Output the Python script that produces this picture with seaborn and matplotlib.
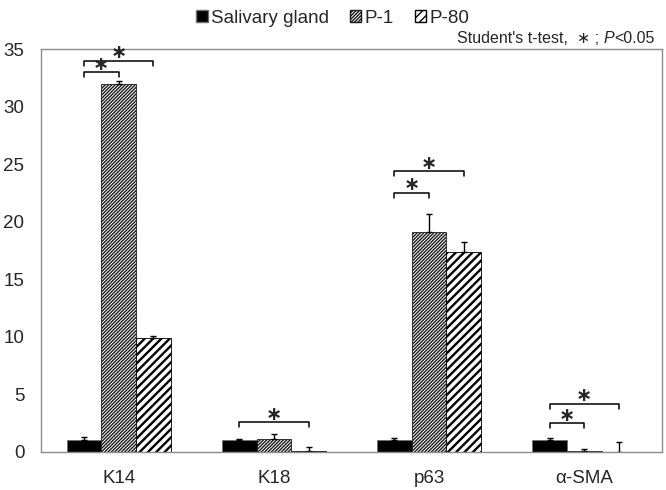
import numpy as np
import pandas as pd
import matplotlib
matplotlib.use("Agg")
import matplotlib.pyplot as plt
from matplotlib.patches import Patch
import seaborn as sns

# values
MARKERS = ["K14", "K18", "p63", "α-SMA"]
SAMPLES = ["Salivary gland", "P-1", "P-80"]
SG_MEAN = [1.0, 1.0, 1.0, 1.0]
SG_ERR = [0.3, 0.15, 0.2, 0.2]
P1_MEAN = [32.0, 1.1, 19.1, 0.05]
P1_ERR = [0.2, 0.45, 1.6, 0.2]
P80_MEAN = [9.9, 0.1, 17.4, 0.0]
P80_ERR = [0.15, 0.35, 0.85, 0.85]

# significance brackets: (marker index, from sample, to sample, height)
BRACKETS = [
    (0, 0, 1, 33.0), (0, 0, 2, 34.0),
    (1, 0, 2, 2.6),
    (2, 0, 1, 22.5), (2, 0, 2, 24.4),
    (3, 0, 1, 2.5), (3, 0, 2, 4.2),
]

sns.set_style("white")
plt.rcParams["font.family"] = ["Liberation Sans", "DejaVu Sans"]
plt.rcParams["hatch.linewidth"] = 1.0

df = pd.DataFrame({
    "marker": MARKERS * 3,
    "sample": np.repeat(SAMPLES, len(MARKERS)),
    "value": SG_MEAN + P1_MEAN + P80_MEAN,
})
errs = [SG_ERR, P1_ERR, P80_ERR]

fig = plt.figure(figsize=(6.66, 4.9), dpi=100)
ax = fig.add_axes([0.0616, 0.0776, 0.9324, 0.8224])

sns.barplot(data=df, x="marker", y="value", hue="sample", order=MARKERS,
            hue_order=SAMPLES, palette=["black", "white", "white"],
            width=0.67, errorbar=None, legend=False, ax=ax)

hatches = [None, "//////////", "////"]
hatch_colors = ["#707070", "#1a1a1a", "black"]
hatch_lw = [1.0, 1.0, 1.7]
centers = []
bar_containers = list(ax.containers)
for k, cont in enumerate(bar_containers):
    cx = []
    for bar in cont:
        bar.set_edgecolor(hatch_colors[k])
        bar.set_linewidth(0.6)
        if hatches[k]:
            bar.set_hatch(hatches[k])
            if hasattr(bar, "set_hatch_linewidth"):
                bar.set_hatch_linewidth(hatch_lw[k])
            if hasattr(bar, "set_hatchcolor"):
                bar.set_hatchcolor(hatch_colors[k])
                bar.set_edgecolor("#808080")
        cx.append(bar.get_x() + bar.get_width() / 2)
    centers.append(cx)
    ax.errorbar(cx, [b.get_height() for b in cont],
                yerr=[np.zeros(len(cx)), errs[k]], fmt="none",
                ecolor="black", elinewidth=1, capsize=2.5, capthick=1)

for m, a, b, h in BRACKETS:
    x0, x1 = centers[a][m], centers[b][m]
    ax.plot([x0, x0, x1, x1], [h - 0.45, h, h, h - 0.45], color="black", lw=1.1)
    ax.annotate("∗", ((x0 + x1) / 2, h), xytext=(0, 5), textcoords="offset points",
                ha="center", va="center", fontsize=14, fontweight="bold")

ax.set_xlim(-0.5, 3.5)
ax.set_ylim(0, 35)
ax.set_yticks(range(0, 36, 5))
ax.set_xlabel("")
ax.set_ylabel("")
ax.set_xticks(np.arange(-0.5, 4.0, 1.0), minor=True)
ax.tick_params(axis="x", which="major", length=0, pad=13, labelsize=13.5)
ax.tick_params(axis="x", which="minor", length=6, color="#a0a0a0", width=1)
ax.tick_params(axis="y", length=0, pad=12, labelsize=13.5)
for s in ax.spines.values():
    s.set_visible(True)
    s.set_color("#8c8c8c")
    s.set_linewidth(1)

handles = [Patch(facecolor=c, edgecolor=e, hatch=h, label=l)
           for c, e, h, l in zip(["black", "white", "white"], hatch_colors, hatches, SAMPLES)]
fig.legend(handles=handles, loc="upper center", bbox_to_anchor=(0.5, 1.015), ncol=3,
           frameon=False, fontsize=13.5, handlelength=0.6, handleheight=0.6,
           handletextpad=0.2, columnspacing=1.1)

# note at top right, built from pieces so that P is italic
renderer = fig.canvas.get_renderer()
x_right = 655 / 666
y_base = 1 - 43 / 490
t3 = fig.text(x_right, y_base, "<0.05", ha="right", va="baseline", fontsize=11.5)
x = t3.get_window_extent(renderer).x0 / fig.bbox.width
t2 = fig.text(x, y_base, "P", ha="right", va="baseline", fontsize=11.5, style="italic")
x = t2.get_window_extent(renderer).x0 / fig.bbox.width
fig.text(x, y_base, "Student's t-test,  ∗ ; ", ha="right", va="baseline", fontsize=11.5)

fig.savefig("out.png", dpi=100)
